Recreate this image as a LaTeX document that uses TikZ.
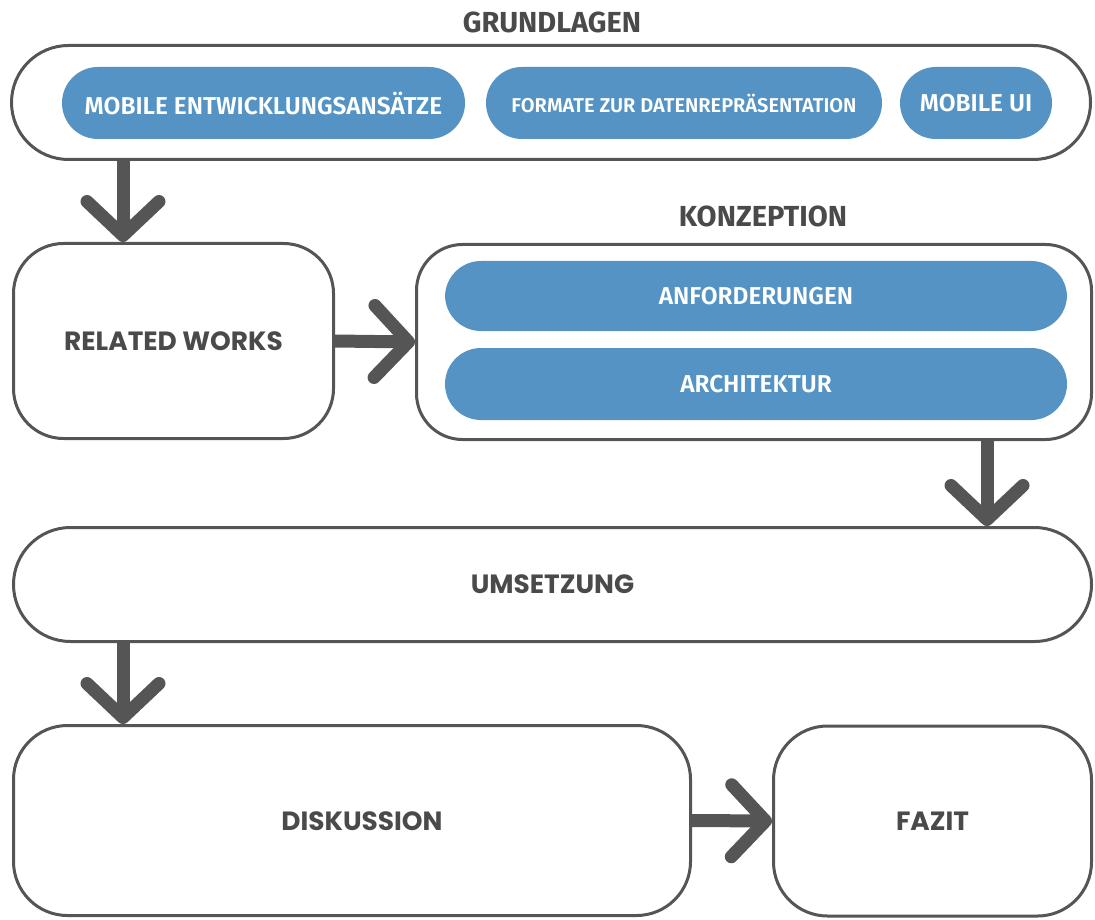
\documentclass[tikz,border=0pt]{standalone}
\usepackage{fontspec}
\usetikzlibrary{arrows.meta,calc}
\newfontfamily\pillfont{Fira Sans}[UprightFont=* SemiBold]
\newfontfamily\titlefont{Fira Sans}[UprightFont=* Bold]
\newfontfamily\labelfont{Poppins}
\definecolor{linegray}{HTML}{555555}
\definecolor{textgray}{HTML}{4A4A4A}
\definecolor{pillblue}{HTML}{5493C3}
\begin{document}
\begin{tikzpicture}[x=0.5pt,y=-0.5pt,
  boxtext/.style={font=\labelfont\bfseries\fontsize{13.2}{15}\selectfont, text=textgray},
  frame/.style={draw=linegray, line width=1.5pt, fill=white, inner sep=0pt, boxtext},
  pill/.style={fill=pillblue, draw=none, inner sep=0pt, minimum height=36pt,
    rounded corners=18pt, text=white, font=\pillfont\fontsize{12.2}{14}\selectfont},
  heading/.style={text=textgray, inner sep=0pt, font=\titlefont\fontsize{14.5}{16}\selectfont},
  flow/.style={draw=linegray, line width=6.5pt,
    -{Straight Barb[length=17pt,width=36pt,round]}}]
\useasboundingbox (0,0) rectangle (1095,919);

% section headings
\node[heading] (tgrund) at (552,22) {GRUNDLAGEN};
\node[heading] (tkonz) at (763,216) {KONZEPTION};

% Grundlagen with its three topics
\node[frame, minimum width=539.5pt, minimum height=57pt, rounded corners=28.5pt] (grund) at (551,102.5) {};
\node[pill, minimum width=201.5pt] (me) at (263.5,103) {MOBILE ENTWICKLUNGSANSÄTZE};
\node[pill, minimum width=198pt, font=\pillfont\fontsize{10}{12}\selectfont] (fmt) at (684,103) {FORMATE ZUR DATENREPRÄSENTATION};
\node[pill, minimum width=76pt] (mui) at (976,103) {MOBILE UI};

% Related works and Konzeption
\node[frame, minimum width=160pt, minimum height=97.5pt, rounded corners=25pt] (rw) at (173.5,341) {RELATED WORKS};
\node[frame, minimum width=337.5pt, minimum height=97.5pt, rounded corners=23pt] (konz) at (754,342) {};
\node[pill, minimum width=311pt, minimum height=35pt] (anf) at (756,296) {ANFORDERUNGEN};
\node[pill, minimum width=311pt] (arch) at (756,384) {ARCHITEKTUR};

% Umsetzung
\node[frame, minimum width=539pt, minimum height=57pt, rounded corners=28.5pt] (ums) at (552.5,584.5) {UMSETZUNG};

% Diskussion and Fazit
\node[frame, minimum width=338.5pt, minimum height=95pt, rounded corners=27pt] (disk) at (352,820.5) {};
\node[boxtext, inner sep=0pt] (disklbl) at (362,821) {DISKUSSION};
\node[frame, minimum width=159pt, minimum height=95pt, rounded corners=27pt] (faz) at (932.5,821) {FAZIT};

% connectors
\coordinate (laneL) at (123,0);
\coordinate (laneR) at (987,0);
\draw[flow] (grund.south -| laneL) -- (rw.north -| laneL);
\draw[flow] (rw.east) -- (konz.west);
\draw[flow] (konz.south -| laneR) -- (ums.north -| laneR);
\draw[flow] (ums.south -| laneL) -- (disk.north -| laneL);
\draw[flow] (disk.east) -- (faz.west);
\end{tikzpicture}
\end{document}
